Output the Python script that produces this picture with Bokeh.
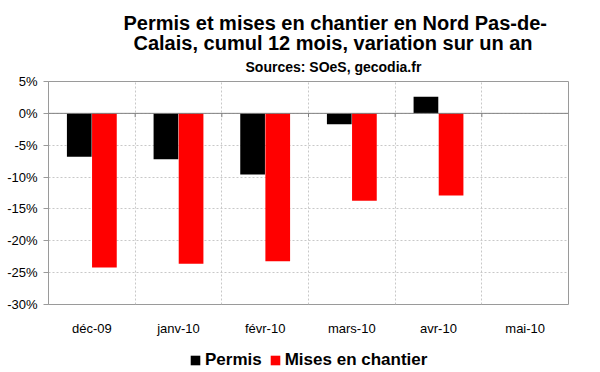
from bokeh.plotting import figure
from bokeh.layouts import column
from bokeh.models import Range1d, FixedTicker, Legend, LegendItem, Span, Title, ColumnDataSource
from bokeh.embed import file_html
from bokeh.resources import INLINE

months = ["déc-09", "janv-10", "févr-10", "mars-10", "avr-10", "mai-10"]
permis = [-6.8, -7.2, -9.6, -1.7, 2.6, float("nan")]
mises = [-24.2, -23.6, -23.2, -13.7, -12.9, float("nan")]
y_ticks = [5, 0, -5, -10, -15, -20, -25, -30]
series_names = ["Permis", "Mises en chantier"]
series_colors = ["black", "#ff0000"]

title_lines = ["Permis et mises en chantier en Nord Pas-de-",
               "Calais, cumul 12 mois, variation sur un an"]
subtitle = "Sources: SOeS, gecodia.fr"

FONT = "Liberation Sans"
centers = [i + 0.5 for i in range(len(months))]
bounds = list(range(1, len(months)))

src = ColumnDataSource(dict(
    xp=[c - 0.145 for c in centers],
    xm=[c + 0.145 for c in centers],
    permis=permis,
    mises=mises,
))

p = figure(frame_width=520, frame_height=223, output_backend="svg", toolbar_location=None,
           x_range=Range1d(0, len(months)), y_range=Range1d(min(y_ticks), max(y_ticks)),
           min_border_left=48, min_border_right=32, min_border_top=81, min_border_bottom=36)
p.background_fill_color = "white"
p.border_fill_color = "white"
p.outline_line_color = "#9a9a9a"

p.vbar(x="xp", top="permis", bottom=0, width=0.285, source=src, fill_color=series_colors[0], line_color=None)
p.vbar(x="xm", top="mises", bottom=0, width=0.285, source=src, fill_color=series_colors[1], line_color=None)

# axes
p.xaxis.ticker = FixedTicker(ticks=centers)
p.xaxis.major_label_overrides = {c: m for c, m in zip(centers, months)}
p.xaxis.axis_line_color = None
p.xaxis.major_tick_line_color = None
p.xaxis.major_tick_out = 0
p.xaxis.major_tick_in = 0
p.xaxis.minor_tick_line_color = None
p.xaxis.major_label_standoff = 16
p.xaxis.major_label_text_font = FONT
p.xaxis.major_label_text_font_size = "13px"
p.xaxis.major_label_text_color = "black"

p.yaxis.ticker = FixedTicker(ticks=y_ticks)
p.yaxis.major_label_overrides = {t: f"{t}%" for t in y_ticks}
p.yaxis.axis_line_color = "#9a9a9a"
p.yaxis.major_tick_line_color = "#9a9a9a"
p.yaxis.major_tick_out = 5
p.yaxis.major_tick_in = 0
p.yaxis.minor_tick_line_color = None
p.yaxis.major_label_standoff = 6
p.yaxis.major_label_text_font = FONT
p.yaxis.major_label_text_font_size = "13px"
p.yaxis.major_label_text_color = "black"

# grids
p.xgrid.ticker = FixedTicker(ticks=bounds)
p.xgrid.grid_line_color = "#c8c8c8"
p.xgrid.grid_line_dash = "2 2"
p.ygrid.ticker = FixedTicker(ticks=y_ticks)
p.ygrid.grid_line_color = "#c8c8c8"
p.ygrid.grid_line_dash = "2 2"

p.add_layout(Span(location=0, dimension="width", line_color="#808080", line_width=1))
p.segment(x0=bounds, y0=[0] * len(bounds), x1=bounds, y1=[-0.6] * len(bounds),
          line_color="#808080", line_width=1)

# titles (first added is nearest to the frame)
p.add_layout(Title(text=subtitle, align="left", offset=197, text_font=FONT, text_color="black",
                   text_font_size="14px", text_font_style="bold", standoff=14), "above")
p.add_layout(Title(text=title_lines[1], align="left", offset=85, text_font=FONT, text_color="black",
                   text_font_size="20px", text_font_style="bold", standoff=-8), "above")
p.add_layout(Title(text=title_lines[0], align="left", offset=75, text_font=FONT, text_color="black",
                   text_font_size="20px", text_font_style="bold", standoff=0), "above")

# legend strip below the chart (its bars lie outside this strip's view; only the legend shows)
q = figure(width=600, height=32, output_backend="svg", toolbar_location=None,
           x_axis_type=None, y_axis_type=None, min_border=0,
           x_range=Range1d(0, len(months)), y_range=Range1d(100, 101))
q.outline_line_color = None
q.grid.visible = False
q.background_fill_color = "white"
q.border_fill_color = "white"
items = []
for name, col, field in zip(series_names, series_colors, ["permis", "mises"]):
    r = q.vbar(x="xp", top=field, bottom=0, width=0.285, source=src, fill_color=col, line_color=None)
    items.append(LegendItem(label=name, renderers=[r]))

legend = Legend(items=items, orientation="horizontal", location=(141, 2),
                border_line_color=None, background_fill_alpha=0,
                label_text_font=FONT, label_text_font_style="bold", label_text_font_size="17px",
                label_text_color="black",
                glyph_width=12, glyph_height=12, spacing=7, label_standoff=4,
                padding=0, margin=0)
q.add_layout(legend, "center")

open("out.html", "w").write(file_html(column(p, q, spacing=0), INLINE))
